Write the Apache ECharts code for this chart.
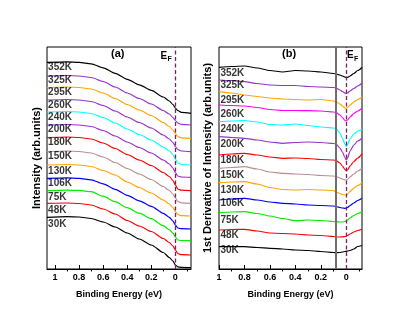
<!DOCTYPE html>
<html><head><meta charset="utf-8">
<script src="https://cdn.jsdelivr.net/npm/echarts@6/dist/echarts.min.js"></script>
<style>html,body{margin:0;padding:0;background:#fff}#c{width:415px;height:317px}</style>
</head><body><div id="c"></div>
<script>
// ---- categories ----
const temps = ['352K','325K','295K','260K','240K','200K','180K','150K','130K','106K','75K','48K','30K'];
const colorsA = ['#000000','#9932CC','#FFA500','#9932CC','#00FFFF','#9932CC','#FF0000','#BC8F8F','#FFA500','#0000FF','#00EE00','#FF0000','#000000'];
const colorsB = ['#000000','#9932CC','#FFA500','#FF00FF','#00FFFF','#9932CC','#FF0000','#BC8F8F','#FFA500','#0000FF','#00EE00','#FF0000','#000000'];

// ---- panel (a): intensity spectra (arb. units, offset) ----
const energyA = [1.067, 0.9, 0.8, 0.7, 0.6, 0.5, 0.4, 0.3, 0.2, 0.1, 0.05, 0.02, 0, -0.02, -0.05, -0.13];
const a352 = [206.7, 207.2, 206.7, 205.2, 201.2, 195.7, 189.7, 184.2, 178.7, 172, 168, 164.5, 161, 158.5, 156.7, 155.7];
const a325 = [193, 193.5, 193, 191.5, 187.5, 182, 176, 170.5, 165, 158.5, 155, 151.5, 148.5, 146, 144.6, 144];
const a295 = [181.5, 182, 181.5, 180, 176, 170.5, 164.5, 159, 153.5, 146.5, 142.5, 139, 135.5, 132.5, 131.2, 130.7];
const a260 = [169, 169.5, 169, 167.5, 163.5, 158, 152, 146.5, 141, 134, 130, 126.5, 122.5, 119.5, 118, 117.3];
const a240 = [157, 157.5, 157, 155.5, 151.5, 146, 140, 134.5, 129, 122, 118, 114.5, 110, 106, 104.5, 104];
const a200 = [144, 144.5, 144, 142.5, 138.5, 133, 127, 121.5, 116, 109, 105, 101, 96.5, 93, 92, 91.7];
const a180 = [131.5, 132, 131.5, 130, 126, 120.5, 114.5, 109, 103.5, 96.5, 92.5, 88.5, 84, 80, 78.8, 78.3];
const a150 = [117.5, 118, 117.5, 116, 112, 106.5, 100.5, 95, 89.5, 82.5, 78.5, 75, 71, 67.5, 66.2, 65.7];
const a130 = [104, 104.5, 104, 102.5, 98.5, 94, 87, 81.5, 76, 69, 65, 61.5, 57.5, 54.5, 53.3, 53];
const a106 = [90.7, 91.2, 90.7, 89.2, 85.2, 79.7, 73.7, 68.2, 62.7, 55.7, 51.7, 48, 44, 41, 40.3, 40];
const a75  = [78.3, 78.8, 78.6, 77.3, 72.8, 67.3, 61.3, 55.8, 50.3, 43.3, 39.3, 35.8, 32, 29, 28.5, 28.3];
const a48  = [65.7, 66, 65.5, 64, 60, 55, 48.5, 43, 37.5, 30.5, 26.5, 23, 19, 15.5, 14.3, 14];
const a30  = [51.7, 52.3, 52, 50.5, 47, 42, 36, 30, 24, 16.5, 11.5, 8, 4, 2.2, 1.6, 1.3];
const labelYA = [201.7, 189, 176.7, 164, 151.7, 139.7, 126.7, 112.3, 97.3, 85.7, 71.3, 58.3, 45];

// ---- panel (b): first derivative (arb. units, offset) ----
const energyB = [1.0, 0.9, 0.8, 0.7, 0.6, 0.5, 0.4, 0.3, 0.2, 0.1, 0.08, 0.05, 0.03, 0.01, 0, -0.01, -0.03, -0.06, -0.09, -0.124];
const b352 = [201.7, 202.5, 203, 201, 198.5, 197, 198.5, 198, 197, 195.5, 195, 194, 193, 192, 191.5, 191.7, 193, 195.5, 198.5, 201.5];
const b325 = [189, 188.5, 187.3, 185.5, 184, 183.5, 183.5, 182.5, 182, 181.5, 181, 179, 177.5, 176, 175.7, 176, 178, 180.5, 183, 186];
const b295 = [177.3, 176, 174, 172.5, 171, 170, 169.5, 169, 169.5, 168, 167.3, 165, 163, 161, 160.7, 161.5, 164, 167, 169.5, 172.3];
const b260 = [164, 163.5, 163, 161.5, 159.5, 158.5, 158.5, 158.3, 158, 157, 156.5, 154, 151.5, 148.5, 148, 149, 152, 155.5, 158, 160.7];
const b240 = [147.3, 148, 148.5, 147, 144.5, 144, 145, 143.5, 142, 141, 140.5, 136, 131, 125, 122.5, 124, 130, 135, 138, 139.5];
const b200 = [132.3, 131.5, 130.7, 129, 127, 125.7, 126.5, 127, 126.5, 125.5, 125, 121, 117, 111.5, 109, 111, 118, 124, 128, 130.7];
const b180 = [114, 115, 115.7, 114, 112, 110.7, 111, 110.5, 109.5, 109, 108.5, 106, 103, 99.5, 98.3, 99, 103, 107.5, 111, 115];
const b150 = [100.7, 101.5, 102.3, 100, 97, 95.7, 95, 94.5, 93.5, 93, 92.5, 91, 90, 89, 89, 89.5, 92, 95, 98, 100.7];
const b130 = [86.3, 87, 87.3, 85, 81.5, 79.5, 79, 79.5, 79, 78.5, 77, 75.5, 74.5, 74, 74, 75, 77.5, 81, 83.5, 86.3];
const b106 = [69, 70, 70.7, 69, 67, 65.7, 65, 64, 63.5, 63, 62.5, 61.5, 61, 60.7, 61, 61.5, 63.5, 66, 68.5, 70.7];
const b75  = [56.3, 57, 57.3, 55.5, 53, 50.5, 48.3, 49, 48.5, 47.5, 47.3, 47, 47, 47.5, 48, 49, 51, 53.5, 55.5, 57.3];
const b48  = [39, 39.5, 39.7, 38, 36, 35.5, 35, 34, 33.5, 32.5, 32, 32, 32.2, 32.5, 33, 33.5, 35, 37, 38.5, 39.7];
const b30  = [22.3, 22.3, 22.3, 21.5, 20.7, 20, 19, 18.5, 17.5, 16.5, 16.3, 16.5, 17, 17.5, 17.7, 18, 18.5, 20, 22.5, 23.5];
const labelYB = [195.7, 183.3, 169, 155, 140, 125, 108.3, 94, 79, 65.7, 49, 33.3, 19];

// ---- tick labels ----
const majorTicks = [1, 0.8, 0.6, 0.4, 0.2, 0];
const minorTicks = [0.9, 0.7, 0.5, 0.3, 0.1, -0.1];
const fermiLevel = 0;
const verticalRefB = 0.08;

const spectraA = [a352,a325,a295,a260,a240,a200,a180,a150,a130,a106,a75,a48,a30];
const spectraB = [b352,b325,b295,b260,b240,b200,b180,b150,b130,b106,b75,b48,b30];

const FONT = "'Liberation Sans', Arial, sans-serif";
const chart = echarts.init(document.getElementById('c'), null, {renderer: 'canvas'});

function majorAxis(grid, min, max) {
  return {
    type: 'value', gridIndex: grid, min: min, max: max, inverse: true,
    name: 'Binding Energy (eV)', nameLocation: 'middle', nameGap: 21,
    nameTextStyle: {fontFamily: FONT, fontSize: 9, fontWeight: 'bold', color: '#000'},
    axisLine: {show: true, onZero: false, lineStyle: {color: '#000', width: 1}},
    axisTick: {show: true, inside: true, length: 4, customValues: majorTicks, lineStyle: {color: '#000', width: 1}},
    axisLabel: {show: true, margin: 4, customValues: majorTicks, fontFamily: FONT, fontSize: 9, fontWeight: 'bold', color: '#000',
      formatter: v => String(Math.round(v * 10) / 10)},
    splitLine: {show: false}
  };
}
function minorAxis(grid, min, max) {
  return {
    type: 'value', gridIndex: grid, min: min, max: max, inverse: true,
    axisLine: {show: false},
    axisTick: {show: true, inside: true, length: 2.5, customValues: minorTicks, lineStyle: {color: '#000', width: 1}},
    axisLabel: {show: false},
    splitLine: {show: false}
  };
}
function yAx(grid, name, size, gap) {
  return {
    type: 'value', gridIndex: grid, min: 0, max: 222,
    name: name, nameLocation: 'middle', nameGap: gap, nameRotate: 90,
    nameTextStyle: {fontFamily: FONT, fontSize: size, fontWeight: 'bold', color: '#000'},
    axisLine: {show: false}, axisTick: {show: false}, axisLabel: {show: false}, splitLine: {show: false}
  };
}

const series = [];
spectraA.forEach((arr, i) => {
  const s = {
    type: 'line', xAxisIndex: 0, yAxisIndex: 0, name: 'a' + temps[i],
    data: energyA.map((e, j) => [e, arr[j]]),
    showSymbol: false, smooth: 0.25, smoothMonotone: 'x',
    lineStyle: {color: colorsA[i], width: 1.2}, z: 2
  };
  if (i === 0) {
    s.markLine = {silent: true, symbol: ['none', 'none'], label: {show: false},
      lineStyle: {type: [4, 2.5], color: '#7F1F62', width: 1.3},
      data: [{xAxis: fermiLevel}], z: 5};
  }
  series.push(s);
});
spectraB.forEach((arr, i) => {
  const s = {
    type: 'line', xAxisIndex: 2, yAxisIndex: 1, name: 'b' + temps[i],
    data: energyB.map((e, j) => [e, arr[j]]),
    showSymbol: false, smooth: 0.25, smoothMonotone: 'x',
    lineStyle: {color: colorsB[i], width: 1.2}, z: 2
  };
  if (i === 0) {
    s.markLine = {silent: true, symbol: ['none', 'none'], label: {show: false},
      data: [
        {xAxis: verticalRefB, lineStyle: {type: 'solid', color: '#6E6E6E', width: 2}},
        {xAxis: fermiLevel, lineStyle: {type: [4, 2.5], color: '#7F1F62', width: 1.3}}
      ]};
  }
  series.push(s);
});
const labelStyle = {show: true, position: 'right', distance: 0, formatter: '{b}',
  fontFamily: FONT, fontSize: 10, fontWeight: 'bold', color: '#000'};
series.push({type: 'scatter', xAxisIndex: 0, yAxisIndex: 0, symbolSize: 1, itemStyle: {color: 'rgba(0,0,0,0)'},
  silent: true, label: labelStyle, z: 6,
  data: labelYA.map((y, i) => ({name: temps[i], value: [1.062, y]}))});
series.push({type: 'scatter', xAxisIndex: 2, yAxisIndex: 1, symbolSize: 1, itemStyle: {color: 'rgba(0,0,0,0)'},
  silent: true, label: labelStyle, z: 6,
  data: labelYB.map((y, i) => ({name: temps[i], value: [0.993, y]}))});

const txt = (x, y, t, size, align) => ({type: 'text', left: x, top: y, z: 10,
  style: {text: t, fontFamily: FONT, fontSize: size, fontWeight: 'bold', fill: '#000', textAlign: align || 'left'}});

chart.setOption({
  animation: false,
  backgroundColor: '#fff',
  grid: [
    {left: 47, top: 47, width: 144, height: 222, show: true, borderColor: '#000', borderWidth: 1, backgroundColor: 'transparent'},
    {left: 219, top: 47, width: 143, height: 222, show: true, borderColor: '#000', borderWidth: 1, backgroundColor: 'transparent'}
  ],
  xAxis: [majorAxis(0, -0.13, 1.067), minorAxis(0, -0.13, 1.067), majorAxis(1, -0.124, 1.0), minorAxis(1, -0.124, 1.0)],
  yAxis: [yAx(0, 'Intensity (arb.units)', 11, 5), yAx(1, '1st Derivative of Intensity (arb.units)', 11, 6)],
  series: series,
  graphic: [
    txt(111, 48, '(a)', 11),
    txt(282, 48, '(b)', 11),
    txt(160.5, 51, 'E', 10),
    txt(167.5, 56, 'F', 7),
    txt(347, 50.5, 'E', 10),
    txt(354, 56, 'F', 7)
  ]
});
</script>
</body></html>
